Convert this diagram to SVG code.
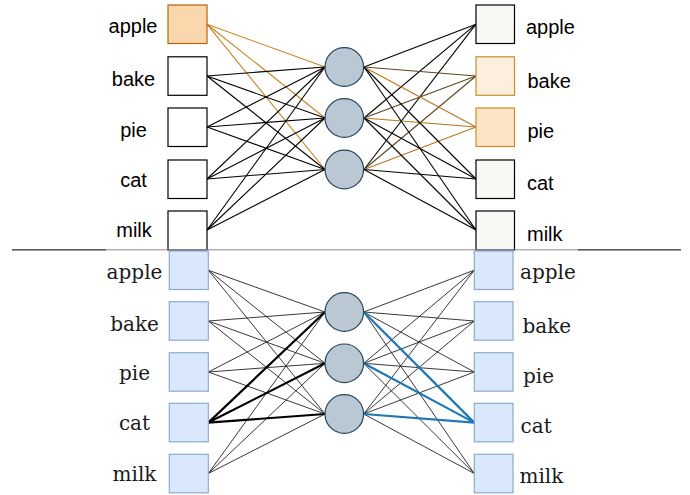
<svg xmlns="http://www.w3.org/2000/svg" width="690" height="495" viewBox="0 0 690 495">
<style>
.sans{font-family:"Liberation Sans",Arial,sans-serif;font-size:20px;fill:#000}
.serif{font-family:"DejaVu Serif",serif;font-size:20px;fill:#1a1a1a}
.wbox{fill:#ffffff;stroke:#000;stroke-width:1.2}
.obox{fill:#f9f8f4;stroke:#000;stroke-width:1.2}
.bbox{fill:#dae8fc;stroke:#8fa9d2;stroke-width:1.2}
.circ{fill:#bac8d3;stroke:#23445d;stroke-width:1.2}
.e{stroke:#000;stroke-width:1.1;fill:none}
.eo{stroke:#c8821e;stroke-width:1.1;fill:none}
.eb{stroke:#5a4620;stroke-width:1.1;fill:none}
.ep{stroke:#b8741a;stroke-width:1.1;fill:none}
.t{stroke:#222;stroke-width:0.9;fill:none}
.k{stroke:#000;stroke-width:2.2;fill:none}
.bl{stroke:#1f77b4;stroke-width:2.2;fill:none}
</style>
<rect width="690" height="495" fill="#fff"/>
<g id="connectors">
<line class="eo" x1="207" y1="24.2" x2="325" y2="67"/>
<line class="eo" x1="207" y1="24.2" x2="325" y2="118"/>
<line class="eo" x1="207" y1="24.2" x2="325" y2="169.5"/>
<line class="e" x1="207" y1="76" x2="325" y2="67"/>
<line class="e" x1="207" y1="76" x2="325" y2="118"/>
<line class="e" x1="207" y1="76" x2="325" y2="169.5"/>
<line class="e" x1="207" y1="127" x2="325" y2="67"/>
<line class="e" x1="207" y1="127" x2="325" y2="118"/>
<line class="e" x1="207" y1="127" x2="325" y2="169.5"/>
<line class="e" x1="207" y1="179" x2="325" y2="67"/>
<line class="e" x1="207" y1="179" x2="325" y2="118"/>
<line class="e" x1="207" y1="179" x2="325" y2="169.5"/>
<line class="e" x1="207" y1="230" x2="325" y2="67"/>
<line class="e" x1="207" y1="230" x2="325" y2="118"/>
<line class="e" x1="207" y1="230" x2="325" y2="169.5"/>
<line class="e" x1="364" y1="67" x2="476" y2="24.2"/>
<line class="e" x1="364" y1="118" x2="476" y2="24.2"/>
<line class="e" x1="364" y1="169.5" x2="476" y2="24.2"/>
<line class="eb" x1="364" y1="67" x2="476" y2="76"/>
<line class="eb" x1="364" y1="118" x2="476" y2="76"/>
<line class="eb" x1="364" y1="169.5" x2="476" y2="76"/>
<line class="ep" x1="364" y1="67" x2="476" y2="127"/>
<line class="ep" x1="364" y1="118" x2="476" y2="127"/>
<line class="ep" x1="364" y1="169.5" x2="476" y2="127"/>
<line class="e" x1="364" y1="67" x2="476" y2="179"/>
<line class="e" x1="364" y1="118" x2="476" y2="179"/>
<line class="e" x1="364" y1="169.5" x2="476" y2="179"/>
<line class="e" x1="364" y1="67" x2="476" y2="230"/>
<line class="e" x1="364" y1="118" x2="476" y2="230"/>
<line class="e" x1="364" y1="169.5" x2="476" y2="230"/>
<line class="t" x1="208.3" y1="270.2" x2="325" y2="312"/>
<line class="t" x1="208.3" y1="270.2" x2="325" y2="363.3"/>
<line class="t" x1="208.3" y1="270.2" x2="325" y2="414"/>
<line class="t" x1="208.3" y1="321" x2="325" y2="312"/>
<line class="t" x1="208.3" y1="321" x2="325" y2="363.3"/>
<line class="t" x1="208.3" y1="321" x2="325" y2="414"/>
<line class="t" x1="208.3" y1="372" x2="325" y2="312"/>
<line class="t" x1="208.3" y1="372" x2="325" y2="363.3"/>
<line class="t" x1="208.3" y1="372" x2="325" y2="414"/>
<line class="t" x1="208.3" y1="473.5" x2="325" y2="312"/>
<line class="t" x1="208.3" y1="473.5" x2="325" y2="363.3"/>
<line class="t" x1="208.3" y1="473.5" x2="325" y2="414"/>
<line class="k" x1="208.3" y1="422.6" x2="325" y2="312"/>
<line class="k" x1="208.3" y1="422.6" x2="325" y2="363.3"/>
<line class="k" x1="208.3" y1="422.6" x2="325" y2="414"/>
<line class="t" x1="363.7" y1="312" x2="474.3" y2="270.2"/>
<line class="t" x1="363.7" y1="363.3" x2="474.3" y2="270.2"/>
<line class="t" x1="363.7" y1="414" x2="474.3" y2="270.2"/>
<line class="t" x1="363.7" y1="312" x2="474.3" y2="321"/>
<line class="t" x1="363.7" y1="363.3" x2="474.3" y2="321"/>
<line class="t" x1="363.7" y1="414" x2="474.3" y2="321"/>
<line class="t" x1="363.7" y1="312" x2="474.3" y2="372"/>
<line class="t" x1="363.7" y1="363.3" x2="474.3" y2="372"/>
<line class="t" x1="363.7" y1="414" x2="474.3" y2="372"/>
<line class="t" x1="363.7" y1="312" x2="474.3" y2="473.5"/>
<line class="t" x1="363.7" y1="363.3" x2="474.3" y2="473.5"/>
<line class="t" x1="363.7" y1="414" x2="474.3" y2="473.5"/>
<line class="bl" x1="363.7" y1="312" x2="474.3" y2="422.6"/>
<line class="bl" x1="363.7" y1="363.3" x2="474.3" y2="422.6"/>
<line class="bl" x1="363.7" y1="414" x2="474.3" y2="422.6"/>
</g>
<g id="top-in-apple"><rect x="168" y="5" width="39" height="38.5" fill="#fad7ac" stroke="#b46504" stroke-width="1.2"/><text class="sans" x="133" y="33.3" text-anchor="middle">apple</text></g>
<g id="top-in-bake"><rect class="wbox" x="168" y="56.8" width="39" height="38.5"/><text class="sans" x="133.5" y="85.7" text-anchor="middle">bake</text></g>
<g id="top-in-pie"><rect class="wbox" x="168" y="108" width="39" height="38.5"/><text class="sans" x="133.5" y="136.7" text-anchor="middle">pie</text></g>
<g id="top-in-cat"><rect class="wbox" x="168" y="160" width="39" height="38.5"/><text class="sans" x="133.5" y="186.7" text-anchor="middle">cat</text></g>
<g id="top-in-milk"><rect class="wbox" x="168" y="211" width="39" height="39"/><text class="sans" x="134" y="237.3" text-anchor="middle">milk</text></g>
<g id="top-h1"><circle class="circ" cx="344.3" cy="67" r="19.3"/></g>
<g id="top-h2"><circle class="circ" cx="344.3" cy="118" r="19.3"/></g>
<g id="top-h3"><circle class="circ" cx="344.3" cy="169.5" r="19.3"/></g>
<g id="top-out-apple"><rect class="obox" x="476" y="5" width="38.5" height="38.5"/><text class="sans" x="526" y="33.7">apple</text></g>
<g id="top-out-bake"><rect x="476" y="56.8" width="38.5" height="38.5" fill="#fcefdf" stroke="#d08b2c" stroke-width="1.2"/><text class="sans" x="527.5" y="88.3">bake</text></g>
<g id="top-out-pie"><rect x="476" y="108" width="38.5" height="38.5" fill="#fce4c6" stroke="#d08b2c" stroke-width="1.2"/><text class="sans" x="527.5" y="138">pie</text></g>
<g id="top-out-cat"><rect class="obox" x="476" y="160" width="38.5" height="38.5"/><text class="sans" x="527" y="190">cat</text></g>
<g id="top-out-milk"><rect class="obox" x="476" y="211" width="38.5" height="39"/><text class="sans" x="527" y="240.7">milk</text></g>
<g id="separator">
<line x1="12" y1="249.8" x2="681" y2="249.8" stroke="#8a8a8a" stroke-width="1"/>
<line x1="12" y1="249.8" x2="106" y2="249.8" stroke="#5a5a5a" stroke-width="1.4"/>
<line x1="578" y1="249.8" x2="681" y2="249.8" stroke="#5a5a5a" stroke-width="1.4"/>
</g>
<g id="bot-in-apple"><rect class="bbox" x="169.3" y="251" width="39" height="38.5"/><text class="serif" x="134.5" y="279.3" text-anchor="middle">apple</text></g>
<g id="bot-in-bake"><rect class="bbox" x="169.3" y="301.7" width="39" height="38.5"/><text class="serif" x="134.5" y="330.7" text-anchor="middle">bake</text></g>
<g id="bot-in-pie"><rect class="bbox" x="169.3" y="352.7" width="39" height="38.5"/><text class="serif" x="134.5" y="380" text-anchor="middle">pie</text></g>
<g id="bot-in-cat"><rect class="bbox" x="169.3" y="403.3" width="39" height="38.5"/><text class="serif" x="134.5" y="430" text-anchor="middle">cat</text></g>
<g id="bot-in-milk"><rect class="bbox" x="169.3" y="454.3" width="39" height="38.5"/><text class="serif" x="134.5" y="480.7" text-anchor="middle">milk</text></g>
<g id="bot-h1"><circle class="circ" cx="344.3" cy="312" r="19.3"/></g>
<g id="bot-h2"><circle class="circ" cx="344.3" cy="363.3" r="19.3"/></g>
<g id="bot-h3"><circle class="circ" cx="344.3" cy="414" r="19.3"/></g>
<g id="bot-out-apple"><rect class="bbox" x="474.3" y="251" width="38.7" height="38.5"/><text class="serif" x="520" y="279.3">apple</text></g>
<g id="bot-out-bake"><rect class="bbox" x="474.3" y="301.7" width="38.7" height="38.5"/><text class="serif" x="522.5" y="333.3">bake</text></g>
<g id="bot-out-pie"><rect class="bbox" x="474.3" y="352.7" width="38.7" height="38.5"/><text class="serif" x="523" y="383.3">pie</text></g>
<g id="bot-out-cat"><rect class="bbox" x="474.3" y="403.3" width="38.7" height="38.5"/><text class="serif" x="520.5" y="433.3">cat</text></g>
<g id="bot-out-milk"><rect class="bbox" x="474.3" y="454.3" width="38.7" height="38.5"/><text class="serif" x="519.5" y="483.3">milk</text></g>
</svg>
